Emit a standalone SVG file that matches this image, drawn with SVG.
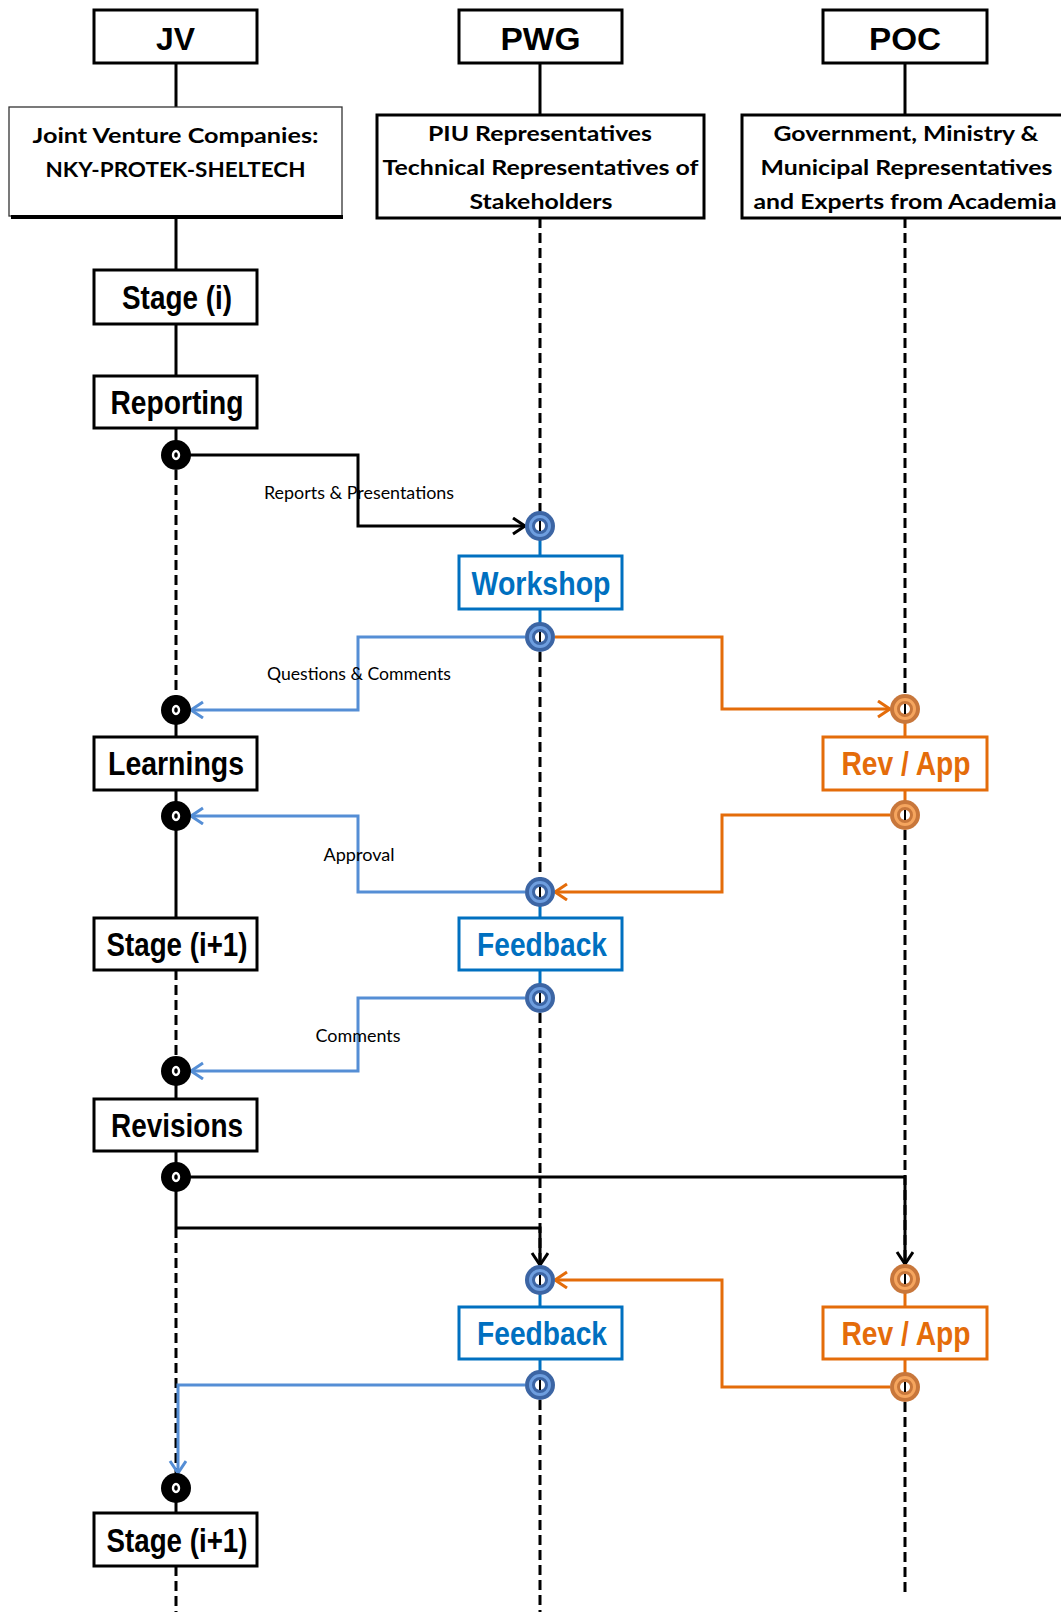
<svg xmlns="http://www.w3.org/2000/svg" xmlns:xlink="http://www.w3.org/1999/xlink" width="1061" height="1612" viewBox="0 0 1061 1612">
  <style>
    .box { fill: #fff; stroke: #000; stroke-width: 3; }
    .boxBlue { fill: #fff; stroke: #0070C0; stroke-width: 3; }
    .boxOrange { fill: #fff; stroke: #E46C0A; stroke-width: 3; }
    .title { font-family: "Liberation Sans", Arial, sans-serif; font-weight: bold; font-size: 32px; fill: #000; text-anchor: middle; }
    .detail { font-family: Lato, "Open Sans", "Noto Sans", sans-serif; font-weight: bold; font-size: 21px; fill: #000; text-anchor: middle; }
    .stage { font-family: "Liberation Sans Narrow", "Liberation Sans", Arial, sans-serif; font-weight: bold; font-size: 33px; fill: #000; text-anchor: middle; }
    .stageBlue { fill: #0070C0; }
    .stageOrange { fill: #E46C0A; }
    .label { font-family: Lato, "Open Sans", "Noto Sans", sans-serif; font-size: 17px; fill: #000; text-anchor: middle; }
    .life { fill: none; stroke: #000; stroke-width: 3; }
    .dash { fill: none; stroke: #000; stroke-width: 3; stroke-dasharray: 10 5; }
    .lifeBlue { fill: none; stroke: #0070C0; stroke-width: 3; }
    .lifeOrange { fill: none; stroke: #E46C0A; stroke-width: 3; }
    .cBlack { fill: none; stroke: #000; stroke-width: 3; marker-end: url(#arrBlack); }
    .cBlue { fill: none; stroke: #558ED5; stroke-width: 3; marker-end: url(#arrBlue); }
    .cOrange { fill: none; stroke: #E46C0A; stroke-width: 3; marker-end: url(#arrOrange); }
  </style>
  <defs>
    <marker id="arrBlack" markerUnits="userSpaceOnUse" markerWidth="18" markerHeight="20" refX="14" refY="9" orient="auto">
      <path d="M2,1 L14,9 L2,17" fill="none" stroke="#000" stroke-width="3"/>
    </marker>
    <marker id="arrBlue" markerUnits="userSpaceOnUse" markerWidth="18" markerHeight="20" refX="14" refY="9" orient="auto">
      <path d="M2,1 L14,9 L2,17" fill="none" stroke="#558ED5" stroke-width="3"/>
    </marker>
    <marker id="arrOrange" markerUnits="userSpaceOnUse" markerWidth="18" markerHeight="20" refX="14" refY="9" orient="auto">
      <path d="M2,1 L14,9 L2,17" fill="none" stroke="#E46C0A" stroke-width="3"/>
    </marker>
    <g id="portBlack">
      <circle r="15" fill="#000"/>
      <ellipse rx="3" ry="4" fill="none" stroke="#fff" stroke-width="2.4"/>
    </g>
    <g id="portBlue">
      <circle r="15" fill="#3C65A4"/>
      <circle r="9.5" fill="none" stroke="#6E9EDF" stroke-width="3"/>
      <circle r="5" fill="#fff"/>
      <line x1="0" y1="-5" x2="0" y2="5" stroke="#000" stroke-width="2"/>
    </g>
    <g id="portOrange">
      <circle r="15" fill="#C8773B"/>
      <circle r="9.5" fill="none" stroke="#F5A55E" stroke-width="3"/>
      <circle r="5" fill="#fff"/>
      <line x1="0" y1="-5" x2="0" y2="5" stroke="#000" stroke-width="2"/>
    </g>
  </defs>

  <rect width="1061" height="1612" fill="#fff"/>

  <!-- lifelines -->
  <g id="lifelines">
    <!-- JV -->
    <path class="life" d="M176,63 V107 M176,218 V270 M176,324 V376 M176,428 V455"/>
    <path class="dash" d="M176,455 V710"/>
    <path class="life" d="M176,710 V737 M176,790 V918"/>
    <path class="dash" d="M176,970 V1071"/>
    <path class="life" d="M176,1071 V1099 M176,1151 V1228"/>
    <path class="dash" d="M176,1228 V1488"/>
    <path class="life" d="M176,1488 V1513"/>
    <path class="dash" d="M176,1566 V1612"/>
    <!-- PWG -->
    <path class="life" d="M540,63 V115"/>
    <path class="dash" d="M540,218 V526"/>
    <path class="lifeBlue" d="M540,526 V556 M540,609 V637"/>
    <path class="dash" d="M540,637 V892"/>
    <path class="lifeBlue" d="M540,892 V918 M540,970 V998"/>
    <path class="dash" d="M540,998 V1280"/>
    <path class="lifeBlue" d="M540,1280 V1307 M540,1359 V1385"/>
    <path class="dash" d="M540,1385 V1612"/>
    <!-- POC -->
    <path class="life" d="M905,63 V115"/>
    <path class="dash" d="M905,218 V709"/>
    <path class="lifeOrange" d="M905,709 V737 M905,790 V815"/>
    <path class="dash" d="M905,815 V1279"/>
    <path class="lifeOrange" d="M905,1279 V1307 M905,1359 V1387"/>
    <path class="dash" d="M905,1387 V1592"/>
  </g>

  <!-- message connectors -->
  <g id="connectors">
    <path class="cBlack" d="M176,455 H358 V526 H525"/>
    <path class="cBlue" d="M525,637 H358 V710 H191"/>
    <path class="cOrange" d="M555,637 H722 V709 H890"/>
    <path class="cOrange" d="M890,815 H722 V892 H555"/>
    <path class="cBlue" d="M525,892 H358 V816 H191"/>
    <path class="cBlue" d="M525,998 H358 V1071 H191"/>
    <path class="cBlack" d="M176,1177 H905 V1264"/>
    <path class="cBlack" d="M176,1228 H540 V1265"/>
    <path class="cOrange" d="M890,1387 H722 V1280 H555"/>
    <path class="cBlue" d="M525,1385 H178 V1473"/>
    <text class="label" x="359" y="499" textLength="190" lengthAdjust="spacingAndGlyphs">Reports &amp; Presentations</text>
    <text class="label" x="359" y="680" textLength="184" lengthAdjust="spacingAndGlyphs">Questions &amp; Comments</text>
    <text class="label" x="359" y="861" textLength="71" lengthAdjust="spacingAndGlyphs">Approval</text>
    <text class="label" x="358" y="1042" textLength="85" lengthAdjust="spacingAndGlyphs">Comments</text>
  </g>

  <!-- column heads -->
  <g id="jv-head">
    <rect class="box" x="94" y="10" width="163" height="53"/>
    <text class="title" x="175.5" y="50" textLength="39" lengthAdjust="spacingAndGlyphs">JV</text>
  </g>
  <g id="pwg-head">
    <rect class="box" x="459" y="10" width="163" height="53"/>
    <text class="title" x="540.5" y="50" textLength="80" lengthAdjust="spacingAndGlyphs">PWG</text>
  </g>
  <g id="poc-head">
    <rect class="box" x="823" y="10" width="164" height="53"/>
    <text class="title" x="905" y="50" textLength="72" lengthAdjust="spacingAndGlyphs">POC</text>
  </g>

  <g id="jv-members">
    <rect x="9" y="107" width="333" height="109" fill="#fff" stroke="#333" stroke-width="1.3"/>
    <line x1="11" y1="217" x2="343" y2="217" stroke="#000" stroke-width="4"/>
    <text class="detail" x="175.5" y="143" textLength="286" lengthAdjust="spacingAndGlyphs">Joint Venture Companies:</text>
    <text class="detail" x="175.5" y="177" textLength="260" lengthAdjust="spacingAndGlyphs">NKY-PROTEK-SHELTECH</text>
  </g>
  <g id="pwg-members">
    <rect class="box" x="377" y="115" width="327" height="103"/>
    <text class="detail" x="540" y="141" textLength="224" lengthAdjust="spacingAndGlyphs">PIU Representatives</text>
    <text class="detail" x="540.5" y="175" textLength="316" lengthAdjust="spacingAndGlyphs">Technical Representatives of</text>
    <text class="detail" x="541" y="209" textLength="143" lengthAdjust="spacingAndGlyphs">Stakeholders</text>
  </g>
  <g id="poc-members">
    <rect class="box" x="742" y="115" width="330" height="103"/>
    <text class="detail" x="906" y="141" textLength="265" lengthAdjust="spacingAndGlyphs">Government, Ministry &amp;</text>
    <text class="detail" x="906.5" y="175" textLength="292" lengthAdjust="spacingAndGlyphs">Municipal Representatives</text>
    <text class="detail" x="905" y="209" textLength="303" lengthAdjust="spacingAndGlyphs">and Experts from Academia</text>
  </g>

  <!-- JV stages -->
  <g id="stage-i">
    <rect class="box" x="94" y="270" width="163" height="54"/>
    <text class="stage" x="177" y="309" textLength="110" lengthAdjust="spacingAndGlyphs">Stage (i)</text>
  </g>
  <g id="reporting">
    <rect class="box" x="94" y="376" width="163" height="52"/>
    <text class="stage" x="177" y="414" textLength="133" lengthAdjust="spacingAndGlyphs">Reporting</text>
  </g>
  <g id="learnings">
    <rect class="box" x="94" y="737" width="163" height="53"/>
    <text class="stage" x="176" y="775" textLength="136" lengthAdjust="spacingAndGlyphs">Learnings</text>
  </g>
  <g id="stage-i1">
    <rect class="box" x="94" y="918" width="163" height="52"/>
    <text class="stage" x="177" y="956" textLength="141" lengthAdjust="spacingAndGlyphs">Stage (i+1)</text>
  </g>
  <g id="revisions">
    <rect class="box" x="94" y="1099" width="163" height="52"/>
    <text class="stage" x="177" y="1137" textLength="132" lengthAdjust="spacingAndGlyphs">Revisions</text>
  </g>
  <g id="stage-i1-next">
    <rect class="box" x="94" y="1513" width="163" height="53"/>
    <text class="stage" x="177" y="1552" textLength="141" lengthAdjust="spacingAndGlyphs">Stage (i+1)</text>
  </g>

  <!-- PWG stages -->
  <g id="workshop">
    <rect class="boxBlue" x="459" y="556" width="163" height="53"/>
    <text class="stage stageBlue" x="541" y="595" textLength="139" lengthAdjust="spacingAndGlyphs">Workshop</text>
  </g>
  <g id="feedback-1">
    <rect class="boxBlue" x="459" y="918" width="163" height="52"/>
    <text class="stage stageBlue" x="542" y="956" textLength="130" lengthAdjust="spacingAndGlyphs">Feedback</text>
  </g>
  <g id="feedback-2">
    <rect class="boxBlue" x="459" y="1307" width="163" height="52"/>
    <text class="stage stageBlue" x="542" y="1345" textLength="130" lengthAdjust="spacingAndGlyphs">Feedback</text>
  </g>

  <!-- POC stages -->
  <g id="revapp-1">
    <rect class="boxOrange" x="823" y="737" width="164" height="53"/>
    <text class="stage stageOrange" x="906" y="775" textLength="129" lengthAdjust="spacingAndGlyphs">Rev / App</text>
  </g>
  <g id="revapp-2">
    <rect class="boxOrange" x="823" y="1307" width="164" height="52"/>
    <text class="stage stageOrange" x="906" y="1345" textLength="129" lengthAdjust="spacingAndGlyphs">Rev / App</text>
  </g>

  <!-- ports on the lifelines -->
  <g id="ports">
    <use id="p-jv-1" xlink:href="#portBlack" x="176" y="455"/>
    <use id="p-jv-2" xlink:href="#portBlack" x="176" y="710"/>
    <use id="p-jv-3" xlink:href="#portBlack" x="176" y="816"/>
    <use id="p-jv-4" xlink:href="#portBlack" x="176" y="1071"/>
    <use id="p-jv-5" xlink:href="#portBlack" x="176" y="1177"/>
    <use id="p-jv-6" xlink:href="#portBlack" x="176" y="1488"/>
    <use id="p-pwg-1" xlink:href="#portBlue" x="540" y="526"/>
    <use id="p-pwg-2" xlink:href="#portBlue" x="540" y="637"/>
    <use id="p-pwg-3" xlink:href="#portBlue" x="540" y="892"/>
    <use id="p-pwg-4" xlink:href="#portBlue" x="540" y="998"/>
    <use id="p-pwg-5" xlink:href="#portBlue" x="540" y="1280"/>
    <use id="p-pwg-6" xlink:href="#portBlue" x="540" y="1385"/>
    <use id="p-poc-1" xlink:href="#portOrange" x="905" y="709"/>
    <use id="p-poc-2" xlink:href="#portOrange" x="905" y="815"/>
    <use id="p-poc-3" xlink:href="#portOrange" x="905" y="1279"/>
    <use id="p-poc-4" xlink:href="#portOrange" x="905" y="1387"/>
  </g>
</svg>
